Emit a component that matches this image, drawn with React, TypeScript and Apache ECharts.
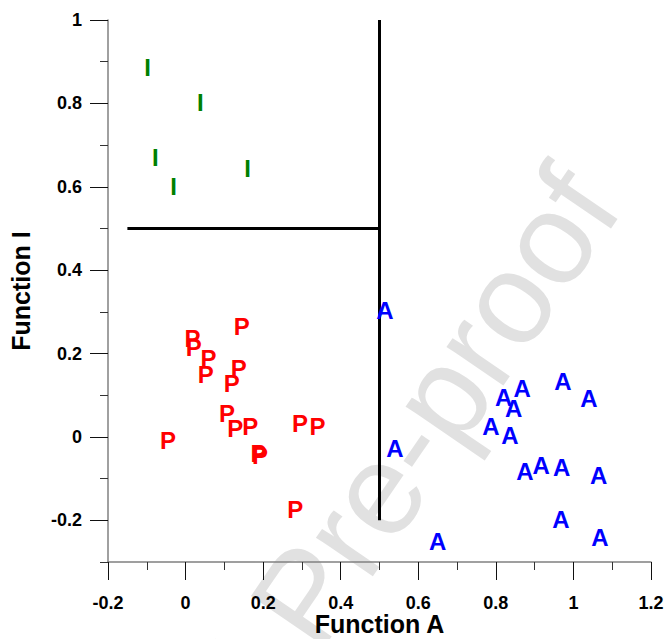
import React, { useEffect, useRef } from 'react';
import * as echarts from 'echarts';

// Discriminant scores (Function A, Function I) per group
const groupI: number[][] = [
  [-0.098, 0.886],
  [0.038, 0.803],
  [-0.078, 0.670],
  [-0.031, 0.600],
  [0.160, 0.643],
];

const groupP: number[][] = [
  [0.145, 0.266],
  [0.018, 0.236],
  [0.021, 0.214],
  [0.059, 0.189],
  [0.052, 0.150],
  [0.137, 0.165],
  [0.119, 0.128],
  [0.107, 0.056],
  [0.128, 0.021],
  [0.167, 0.025],
  [0.295, 0.031],
  [0.340, 0.024],
  [-0.045, -0.009],
  [0.188, -0.040],
  [0.192, -0.044],
  [0.283, -0.174],
];

const groupA: number[][] = [
  [0.514, 0.303],
  [0.540, -0.028],
  [0.820, 0.095],
  [0.868, 0.115],
  [0.846, 0.069],
  [0.973, 0.134],
  [1.040, 0.093],
  [0.787, 0.024],
  [0.836, 0.003],
  [0.875, -0.083],
  [0.917, -0.068],
  [0.970, -0.074],
  [1.065, -0.093],
  [0.968, -0.198],
  [1.068, -0.242],
  [0.650, -0.250],
];

const boundaryHorizontal: number[][] = [
  [-0.15, 0.5],
  [0.5, 0.5],
];
const boundaryVertical: number[][] = [
  [0.5, 1.0],
  [0.5, -0.2],
];

const xMin = -0.2;
const xMax = 1.2;
const xStep = 0.2;
const yMin = -0.3;
const yMax = 1.0;
const yLabelMin = -0.2;
const yStep = 0.2;
const yMinorStep = 0.1;

const xTitle = 'Function A';
const yTitle = 'Function I';
const watermark = 'Journal Pre-proof';

export default function App() {
  const ref = useRef<HTMLDivElement>(null);

  useEffect(() => {
    document.body.style.margin = '0';
    const chart = echarts.init(ref.current!, null, { renderer: 'svg' });
    const font = '"Liberation Sans", Arial, Helvetica, sans-serif';

    const gridTop = 20;
    const gridBottom = 77;
    const gridH = 639 - gridTop - gridBottom;
    const labelGridH = (gridH * (yMax - yLabelMin)) / (yMax - yMin);

    const letterSeries = (name: string, data: number[][], letter: string, color: string) => ({
      type: 'scatter',
      name,
      data,
      xAxisIndex: 0,
      yAxisIndex: 0,
      symbol: 'rect',
      symbolSize: 1,
      itemStyle: { color: 'rgba(0,0,0,0)', opacity: 1 },
      label: {
        show: true,
        position: 'inside',
        formatter: letter,
        color,
        opacity: 1,
        textBorderWidth: 0,
        fontSize: 24,
        fontWeight: 'bold',
        fontFamily: font,
      },
      emphasis: { disabled: true },
      silent: true,
      z: 6,
    });

    const boundary = (data: number[][]) => ({
      type: 'line',
      data,
      xAxisIndex: 0,
      yAxisIndex: 0,
      symbol: 'none',
      lineStyle: { color: '#000', width: 3 },
      silent: true,
      z: 5,
    });

    const labelStyle = {
      fontSize: 18,
      fontWeight: 'bold',
      color: '#000',
      fontFamily: font,
    };

    const titleStyle = { fontSize: 25, fontWeight: 'bold', color: '#000', fontFamily: font };

    chart.setOption({
      animation: false,
      backgroundColor: '#fff',
      grid: [
        { left: 108, right: 19, top: gridTop, bottom: gridBottom, outerBoundsMode: 'none', containLabel: false },
        { left: 108, right: 19, top: gridTop, height: labelGridH, outerBoundsMode: 'none', containLabel: false },
      ],
      graphic: {
        elements: [
          {
            type: 'text',
            x: 304,
            y: 597,
            rotation: (55.6 * Math.PI) / 180,
            z: -10,
            silent: true,
            style: {
              text: watermark,
              fill: '#e1e1e1',
              fontSize: 130,
              fontFamily: font,
              align: 'center',
              verticalAlign: 'middle',
            },
          },
        ],
      },
      xAxis: [
        {
          gridIndex: 0,
          type: 'value',
          min: xMin,
          max: xMax,
          interval: xStep,
          z: 3,
          axisLine: { show: true, onZero: false, lineStyle: { color: '#808080', width: 1.5 } },
          axisTick: { show: true, length: 18, lineStyle: { color: '#111', width: 1 } },
          minorTick: { show: true, splitNumber: 2, length: 8, lineStyle: { color: '#333', width: 1 } },
          splitLine: { show: false },
          minorSplitLine: { show: false },
          axisLabel: { ...labelStyle, margin: 32 },
          name: xTitle,
          nameLocation: 'middle',
          nameGap: 49,
          nameMoveOverlap: false,
          nameTextStyle: titleStyle,
        },
        {
          gridIndex: 1,
          type: 'value',
          min: xMin,
          max: xMax,
          show: false,
        },
      ],
      yAxis: [
        {
          gridIndex: 0,
          type: 'value',
          min: yMin,
          max: yMax,
          interval: yMinorStep,
          z: 3,
          axisLine: { show: true, onZero: false, lineStyle: { color: '#808080', width: 1.5 } },
          axisTick: { show: true, length: 8, lineStyle: { color: '#333', width: 1 } },
          axisLabel: { show: false },
          splitLine: { show: false },
          name: yTitle,
          nameLocation: 'middle',
          nameGap: 75,
          nameMoveOverlap: false,
          nameTextStyle: titleStyle,
        },
        {
          gridIndex: 1,
          type: 'value',
          min: yLabelMin,
          max: yMax,
          interval: yStep,
          z: 3,
          axisLine: { show: false, onZero: false },
          axisTick: { show: true, length: 18, lineStyle: { color: '#111', width: 1 } },
          axisLabel: { ...labelStyle, margin: 26 },
          splitLine: { show: false },
        },
      ],
      series: [
        boundary(boundaryHorizontal),
        boundary(boundaryVertical),
        letterSeries('I', groupI, 'I', '#008000'),
        letterSeries('P', groupP, 'P', '#ff0000'),
        letterSeries('A', groupA, 'A', '#0000ff'),
      ],
    });

    return () => chart.dispose();
  }, []);

  return <div ref={ref} style={{ width: 670, height: 639 }} />;
}
